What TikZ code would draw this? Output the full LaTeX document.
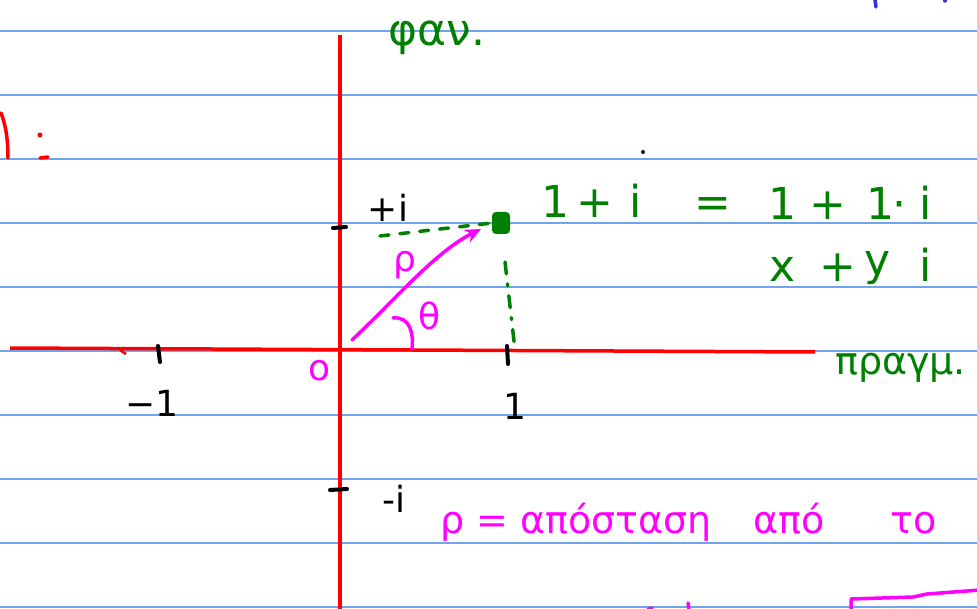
\documentclass[tikz,border=0pt]{standalone}
\usepackage{fontspec}
\setmainfont{DejaVu Sans}
\usetikzlibrary{arrows.meta}
\definecolor{rulec}{RGB}{110,165,235}
\definecolor{pen}{RGB}{0,128,0}
\definecolor{mag}{RGB}{255,0,255}
\definecolor{bluepen}{RGB}{50,50,220}
\begin{document}
\begin{tikzpicture}[x=1pt,y=-1pt,
  ruleline/.style={draw=rulec,line width=1.4pt},
  axis/.style={draw=red,line width=3.5pt},
  ink/.style={line width=3.5pt,line cap=round,line join=round},
  txt/.style={inner sep=0pt,anchor=base},
  big/.style={font=\fontsize{44}{48}\selectfont},
  mid/.style={font=\fontsize{38}{42}\selectfont},
  sml/.style={font=\fontsize{36}{40}\selectfont},
]
\useasboundingbox (0,0) rectangle (977,609);
\clip (0,0) rectangle (977,609);
\fill[white] (0,0) rectangle (977,609);
% ruled lines
\foreach \yy in {31,95,159,223,287,351,415,479,543,607}
  \draw[ruleline] (0,\yy) -- (977,\yy);
% axes
\coordinate (xl) at (10,348);
\coordinate (xm) at (120,350);
\coordinate (xr) at (815,352);
\coordinate (yt) at (340,35);
\coordinate (yb) at (340,612);
\draw[axis] (xl) -- (xr);
\draw[axis,line width=2.5pt] (xm) -- ++(6,4);
\draw[axis] (yt) -- (yb);
% ticks
\draw[black,ink,line width=4pt] (158,346) -- (160,362);
\draw[black,ink,line width=4pt] (507,346) -- (508,364);
\draw[black,ink,line width=4pt] (333,228) -- (346,227);
\draw[black,ink,line width=4pt] (330,490) -- (347,489);
% axis labels
\node[txt,sml] (m1) at (152,417) {−1};
\node[txt,sml] (p1) at (515,419) {1};
\node[txt,sml,text=mag] (zero) at (320,381) {o};
\node[txt,sml] (pi) at (388,222) {+i};
\node[txt,sml] (mi) at (394,512) {-i};
% point 1+i
\node[fill=pen,rounded corners=4pt,minimum width=18pt,minimum height=22pt,inner sep=0pt] (pt) at (501,223) {};
\coordinate (hs) at (380,236);
\coordinate (vs) at (505,262);
\coordinate (vt) at (515,350);
\draw[pen,ink,dash pattern=on 9pt off 11pt] (hs) -- (pt.west);
\draw[pen,ink,dash pattern=on 12pt off 10pt on 2pt off 10pt] (vs) -- (vt);
% modulus arrow and angle
\coordinate (ps) at (352,340);
\coordinate (ae) at (481,229);
\draw[mag,ink,-{Stealth[length=16pt,width=14pt]}] (ps) .. controls (395,300) and (435,252) .. (ae);
\coordinate (as) at (393,318);
\coordinate (ap) at (412,349);
\draw[mag,ink] (as) .. controls (410,316) and (414,334) .. (ap);
\node[txt,sml,text=mag] (rho) at (405,272) {ρ};
\node[txt,sml,text=mag] (th) at (430,330) {θ};
% green equations
\begin{scope}[text=pen]
\node[txt,big] (g1) at (555,218) {1};
\node[txt,big] (g2) at (595,218) {+};
\node[txt,big] (g3) at (636,218) {i};
\node[txt,big] (g4) at (713,218) {=};
\node[txt,big] (g5) at (782,220) {1};
\node[txt,big] (g6) at (828,220) {+};
\node[txt,big] (g7) at (880,220) {1};
\node[txt,big] (g8) at (899,220) {·};
\node[txt,big] (g9) at (926,220) {i};
\node[txt,big] (h1) at (783,282) {x};
\node[txt,big] (h2) at (838,282) {+};
\node[txt,big] (h3) at (878,276) {y};
\node[txt,big] (h4) at (926,282) {i};
\node[txt,big] (fan) at (437,46) {φαν.};
\node[txt,mid,anchor=base west] (prag) at (835,374) {πραγμ.};
\end{scope}
% magenta sentence
\begin{scope}[text=mag]
\node[txt,mid,anchor=base west] (s1) at (440,533) {ρ = απόσταση};
\node[txt,mid,anchor=base west] (s2) at (753,533) {από};
\node[txt,mid,anchor=base west] (s3) at (890,533) {το};
\end{scope}
% stray marks
\fill[black] (643,152) circle (2pt);
\draw[red,ink] (1,113) .. controls (7,128) and (8,145) .. (8,158);
\fill[red] (40,135) circle (2.5pt);
\draw[red,ink] (40,158) -- (48,157);
\draw[bluepen,ink] (875,0) -- (876,7);
\draw[bluepen,ink] (945,-2) -- (945,1);
\draw[mag,ink] (851,609) -- (851,599) -- (913,597) -- (927,594) -- (980,590);
\draw[mag,ink] (648,609) -- (652,608);
\draw[mag,ink] (688,603) -- (689,609);
\end{tikzpicture}
\end{document}
